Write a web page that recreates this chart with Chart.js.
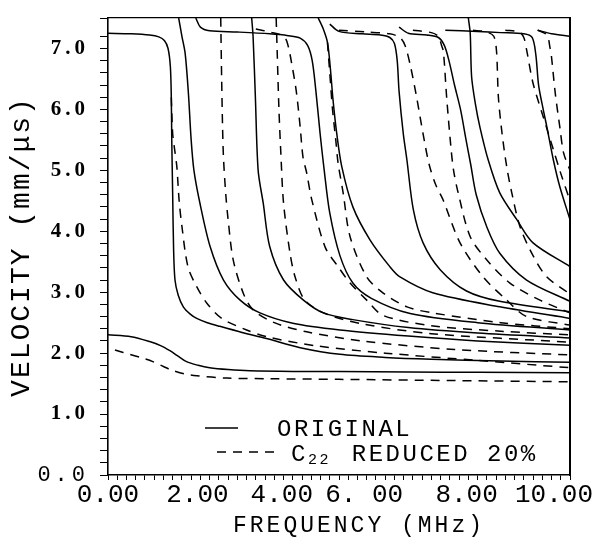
<!DOCTYPE html>
<html>
<head>
<meta charset="utf-8">
<script src="https://cdn.jsdelivr.net/npm/chart.js@4.4.1/dist/chart.umd.min.js"></script>
<style>
  html, body { margin: 0; padding: 0; background: #fff; }
  canvas { display: block; }
</style>
</head>
<body>
<canvas id="chart" width="602" height="550"></canvas>
<script>
// Phase velocity (mm/us) against frequency (MHz), one array per guided mode.
// Original stiffness set (solid curves)
const original0 = [[0,2.30],[0.5,2.27],[0.9,2.19],[1.15,2.12],[1.34,2.04],[1.5,1.96],[1.7,1.86],[1.95,1.80],[2.2,1.76],[2.6,1.73],[3.07,1.71],[4,1.70],[5,1.70],[6.5,1.69],[8,1.685],[10,1.68]];
const original1 = [[0,7.25],[0.5,7.24],[0.9,7.22],[1.1,7.19],[1.22,7.13],[1.3,7.0],[1.35,6.7],[1.37,6.2],[1.38,5.5],[1.40,4.6],[1.42,3.7],[1.45,3.2],[1.52,2.95],[1.63,2.76],[1.78,2.64],[1.92,2.57],[2.15,2.5],[2.42,2.44],[2.9,2.34],[3.43,2.24],[4.16,2.09],[5.02,1.98],[6,1.93],[7,1.9],[8.5,1.87],[10,1.85]];
const original2 = [[1.53,7.5],[1.6,7.2],[1.67,6.92],[1.74,6.27],[1.8,5.5],[1.86,5.0],[1.99,4.46],[2.21,3.75],[2.5,3.2],[2.86,2.87],[3.29,2.66],[4.0,2.49],[5.02,2.38],[6.5,2.28],[8,2.2],[10,2.13]];
const original3 = [[3.11,7.5],[3.14,7.2],[3.19,6.2],[3.25,5.0],[3.36,4.46],[3.5,3.75],[3.8,3.2],[4.23,2.87],[4.66,2.66],[5.3,2.55],[6.5,2.42],[8,2.33],[10,2.25]];
const original4 = [[1.9,7.5],[2.0,7.35],[2.2,7.29],[2.8,7.27],[3.5,7.24],[3.9,7.21],[4.16,7.17],[4.32,7.05],[4.42,6.8],[4.5,6.3],[4.59,5.61],[4.68,5.0],[4.8,4.3],[5.02,3.6],[5.3,3.15],[5.7,2.9],[6.54,2.65],[8,2.5],[10,2.38]];
const original5 = [[4.55,7.5],[4.66,7.32],[4.75,7.1],[4.81,6.7],[4.87,6.16],[4.95,5.61],[5.06,5.06],[5.3,4.4],[5.67,3.86],[6.1,3.42],[6.32,3.25],[7.03,2.99],[8.48,2.76],[10,2.57]];
const original6 = [[4.8,7.4],[5.0,7.28],[5.5,7.24],[5.9,7.22],[6.1,7.18],[6.2,7.08],[6.26,6.8],[6.3,6.3],[6.39,5.61],[6.47,5.17],[6.61,4.35],[6.82,3.81],[7.19,3.37],[7.76,3.02],[8.48,2.85],[10,2.68]];
const original7 = [[6.3,7.35],[6.5,7.25],[6.9,7.22],[7.15,7.18],[7.28,7.05],[7.38,6.8],[7.5,6.4],[7.63,6.0],[7.75,5.5],[7.85,5.1],[7.97,4.6],[8.2,4.07],[8.48,3.64],[9.06,3.2],[10,2.85]];
const original8 = [[7.8,7.5],[7.84,7.25],[7.87,6.54],[7.95,6.1],[8.05,5.71],[8.23,5.17],[8.48,4.63],[8.85,4.19],[9.2,3.81],[10,3.42]];
const original9 = [[7.3,7.3],[8.0,7.28],[8.5,7.26],[9.0,7.24],[9.18,7.18],[9.26,6.9],[9.32,6.4],[9.42,6.0],[9.5,5.71],[9.64,5.17],[9.78,4.73],[10,4.19]];
const original10 = [[9.3,7.3],[9.6,7.24],[10,7.2]];

// C22 reduced by 20 % (dashed curves)
const reduced0 = [[0.15,2.05],[0.33,2.01],[0.7,1.93],[0.97,1.86],[1.2,1.78],[1.38,1.72],[1.65,1.66],[1.92,1.63],[2.57,1.59],[3.5,1.58],[5,1.57],[7.5,1.55],[10,1.53]];
const reduced1 = [[1.37,6.2],[1.4,5.6],[1.45,5.3],[1.49,5.06],[1.54,4.5],[1.6,4.08],[1.73,3.42],[1.92,3.09],[2.14,2.82],[2.46,2.57],[3.0,2.38],[3.43,2.27],[4.5,2.12],[6,2.0],[8,1.88],[10,1.76]];
const reduced2 = [[2.44,7.5],[2.46,6.5],[2.48,5.7],[2.5,5.2],[2.55,4.6],[2.6,4.19],[2.71,3.53],[2.93,2.98],[3.14,2.71],[3.6,2.5],[4.3,2.35],[5.5,2.2],[7.5,2.06],[10,1.97]];
const reduced3 = [[3.64,7.5],[3.66,7.0],[3.7,6.0],[3.74,5.3],[3.8,4.46],[3.94,3.64],[4.05,3.25],[4.26,2.87],[4.7,2.65],[5.5,2.48],[7,2.32],[10,2.18]];
const reduced4 = [[3.2,7.32],[3.5,7.27],[3.75,7.22],[3.87,7.12],[4.0,6.65],[4.08,6.27],[4.16,5.71],[4.22,5.22],[4.3,4.96],[4.41,4.52],[4.7,3.74],[4.98,3.42],[5.24,3.15],[5.6,2.87],[5.95,2.62],[7,2.45],[8.5,2.36],[10,2.3]];
const reduced5 = [[4.75,7.1],[4.8,6.6],[4.86,6.0],[4.93,5.5],[4.98,5.12],[5.09,4.63],[5.24,3.91],[5.6,3.25],[5.95,2.99],[6.47,2.76],[7.03,2.66],[8.5,2.5],[10,2.4]];
const reduced6 = [[5.0,7.3],[5.6,7.27],[6.1,7.24],[6.32,7.18],[6.43,7.05],[6.55,6.7],[6.68,6.2],[6.82,5.6],[6.95,5.1],[7.1,4.75],[7.25,4.52],[7.62,3.81],[8.12,3.25],[8.63,2.87],[9.06,2.6],[10,2.46]];
const reduced7 = [[6.6,7.3],[7.0,7.26],[7.15,7.2],[7.22,7.05],[7.26,6.95],[7.33,6.2],[7.42,5.4],[7.48,5.0],[7.58,4.63],[7.84,3.91],[8.2,3.53],[8.7,3.15],[9.35,2.87],[10,2.66]];
const reduced8 = [[7.9,7.3],[8.2,7.27],[8.35,7.2],[8.41,6.95],[8.45,6.2],[8.53,5.6],[8.63,5.06],[8.74,4.63],[8.92,4.07],[9.2,3.6],[9.5,3.25],[10,2.97]];
const reduced9 = [[8.6,7.3],[8.9,7.27],[9.0,7.18],[9.06,6.98],[9.2,6.43],[9.42,5.88],[9.64,5.34],[9.8,4.95],[10,4.5]];
const reduced10 = [[9.3,7.3],[9.5,7.22],[9.57,7.0],[9.6,6.86],[9.68,6.27],[9.78,5.71],[9.86,5.29],[10,5.0]];

const originalModes = [original0, original1, original2, original3, original4, original5, original6, original7, original8, original9, original10];
const reducedModes = [reduced0, reduced1, reduced2, reduced3, reduced4, reduced5, reduced6, reduced7, reduced8, reduced9, reduced10];

const xTickLabels = ['0.00', '2.00', '4.00', '6. 00', '8.00', '10.00'];
const yTickLabels = ['0.0', '1.0', '2.0', '3.0', '4.0', '5.0', '6.0', '7.0'];
const seriesNames = ['ORIGINAL', 'C_{22} REDUCED 20%'];
const xAxisTitle = 'FREQUENCY (MHz)';
const yAxisTitle = 'VELOCITY (mm/\u03BCs)';

// Linear scale that supports letter spacing for labels and titles,
// per-label nudges, and keeps edge tick labels inside the canvas.
class PlotterScale extends Chart.LinearScale {
  _spacing(opts) { return (opts && opts.letterSpacing ? opts.letterSpacing : 0) + 'px'; }
  _computeLabelItems(area) {
    const items = super._computeLabelItems(area);
    if (this.isHorizontal()) {
      const ctx = this.ctx;
      const nudges = this.options.ticks.labelNudges || [];
      const limit = this.chart.width - (this.options.ticks.edgeMargin || 0);
      let k = 0;
      for (const it of items) {
        if (!it.label) continue;
        ctx.save();
        ctx.font = it.font.string;
        ctx.letterSpacing = this._spacing(this.options.ticks);
        const w = ctx.measureText(String(it.label)).width;
        ctx.restore();
        let x = it.options.translation[0] + (nudges[k] || 0);
        const over = x + w / 2 - limit;
        if (over > 0) x -= over;
        it.options.translation[0] = x;
        k++;
      }
    }
    return items;
  }
  drawLabels(area) {
    const ctx = this.ctx;
    ctx.save();
    ctx.letterSpacing = this._spacing(this.options.ticks);
    super.drawLabels(area);
    ctx.restore();
  }
  drawTitle() {
    const ctx = this.ctx;
    ctx.save();
    ctx.letterSpacing = this._spacing(this.options.title);
    const shift = this.options.title.shift || 0;
    if (this.isHorizontal()) ctx.translate(shift, 0); else ctx.translate(0, shift);
    super.drawTitle();
    ctx.restore();
  }
}
PlotterScale.id = 'plotter';
PlotterScale.defaults = Chart.LinearScale.defaults;
Chart.register(PlotterScale);

// Key drawn inside the plot area, using each series' own line style.
const curveKey = {
  id: 'curveKey',
  afterDraw(chart, args, opts) {
    const ctx = chart.ctx;
    const groups = ['original', 'reduced'];
    groups.forEach((g, i) => {
      const ds = chart.data.datasets.find(d => d.group === g);
      const row = opts.rows[i];
      ctx.save();
      ctx.strokeStyle = ds.borderColor;
      ctx.lineWidth = ds.borderWidth;
      ctx.setLineDash(ds.borderDash || []);
      ctx.beginPath();
      ctx.moveTo(row.x0, row.lineY);
      ctx.lineTo(row.x1, row.lineY);
      ctx.stroke();
      ctx.restore();

      ctx.save();
      ctx.fillStyle = '#000';
      ctx.textBaseline = 'alphabetic';
      ctx.textAlign = 'left';
      ctx.letterSpacing = opts.letterSpacing + 'px';
      let x = row.textX;
      const parts = seriesNames[i].split(/(_\{[^}]*\})/).filter(p => p.length);
      for (const p of parts) {
        const sub = p.startsWith('_{');
        const txt = sub ? p.slice(2, -1) : p;
        ctx.font = sub ? opts.subFont : opts.font;
        ctx.fillText(txt, x, row.baseline + (sub ? opts.subDrop : 0));
        x += ctx.measureText(txt).width + (sub ? opts.subGap : 0);
      }
      ctx.restore();
    });
  }
};

const datasets = [];
originalModes.forEach((m) => datasets.push({
  label: seriesNames[0], group: 'original',
  data: m.map(([f, v]) => ({ x: f, y: v })),
  borderColor: '#000', borderWidth: 1.5, borderDash: [],
  showLine: true, pointRadius: 0, tension: 0.3, fill: false
}));
reducedModes.forEach((m) => datasets.push({
  label: seriesNames[1], group: 'reduced',
  data: m.map(([f, v]) => ({ x: f, y: v })),
  borderColor: '#000', borderWidth: 1.5, borderDash: [9, 7],
  showLine: true, pointRadius: 0, tension: 0.3, fill: false
}));

const isMultiple = (v, step) => Math.abs(v / step - Math.round(v / step)) < 1e-6;

new Chart(document.getElementById('chart'), {
  type: 'scatter',
  data: { datasets },
  plugins: [curveKey],
  options: {
    responsive: false,
    animation: false,
    events: [],
    layout: { padding: { left: 0, right: 32, top: 18, bottom: 0 } },
    plugins: {
      legend: { display: false },
      tooltip: { enabled: false },
      curveKey: {
        font: '24px "Liberation Mono"',
        subFont: '15px "Liberation Mono"',
        subDrop: 3, subGap: 4,
        letterSpacing: 2.5,
        rows: [
          { x0: 205, x1: 238, lineY: 428, textX: 277, baseline: 436 },
          { x0: 217, x1: 279, lineY: 452, textX: 291, baseline: 461 }
        ]
      }
    },
    scales: {
      x: {
        type: 'plotter', position: 'bottom', min: 0, max: 10,
        ticks: {
          stepSize: 0.2, autoSkip: false, maxRotation: 0, minRotation: 0,
          color: '#000', padding: 0, edgeMargin: 9,
          labelNudges: [0, -3, -11, -21, -11, 0],
          font: { family: '"Liberation Mono"', size: 26 },
          callback: (v) => isMultiple(v, 2) ? xTickLabels[Math.round(v / 2)] : ''
        },
        grid: { display: true, drawOnChartArea: false, drawTicks: true, tickLength: 5, color: '#000', lineWidth: 1 },
        border: { display: true, color: '#000', width: 1.4 },
        title: {
          display: true, text: xAxisTitle, color: '#000',
          font: { family: '"Liberation Mono"', size: 23 },
          padding: { top: 0, bottom: 10 }, letterSpacing: 3, shift: 20
        },
        afterFit: (s) => { s.height = 75; s.paddingLeft = 0; s.paddingRight = 0; }
      },
      y: {
        type: 'plotter', position: 'left', min: 0, max: 7.5,
        ticks: {
          stepSize: 0.2, autoSkip: false, color: '#000', padding: 11, letterSpacing: 4,
          font: (ctx) => (ctx.tick && ctx.tick.value === 0)
            ? { family: '"Liberation Mono"', size: 22, weight: 'normal' }
            : { family: '"Liberation Serif"', size: 21, weight: 'bold' },
          callback: (v) => isMultiple(v, 1) ? yTickLabels[Math.round(v)] : ''
        },
        grid: { display: true, drawOnChartArea: false, drawTicks: true, tickLength: 8, color: '#000', lineWidth: 1 },
        border: { display: true, color: '#000', width: 1.6 },
        title: {
          display: true, text: yAxisTitle, color: '#000',
          font: { family: '"Liberation Mono"', size: 28 },
          padding: { top: 5, bottom: 0 }, letterSpacing: 2
        },
        afterFit: (s) => { s.width = 108; s.paddingTop = 0; s.paddingBottom = 0; }
      },
      xTop: {
        type: 'linear', position: 'top', min: 0, max: 10,
        ticks: { display: false },
        grid: { display: false, drawTicks: false },
        border: { display: true, color: '#000', width: 1.2, dash: [14, 3, 2, 3] },
        afterFit: (s) => { s.height = 0; }
      },
      yRight: {
        type: 'linear', position: 'right', min: 0, max: 7.5,
        ticks: { display: false },
        grid: { display: false, drawTicks: false },
        border: { display: true, color: '#000', width: 2 },
        afterFit: (s) => { s.width = 0; }
      }
    }
  }
});
</script>
</body>
</html>
